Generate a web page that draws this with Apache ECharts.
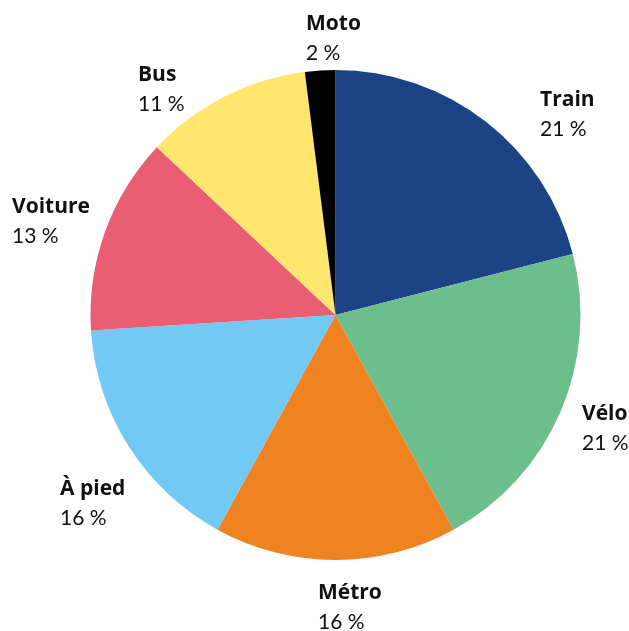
<!DOCTYPE html>
<html>
<head>
<meta charset="utf-8">
<script src="https://cdn.jsdelivr.net/npm/echarts@6/dist/echarts.min.js"></script>
<style>
  html, body { margin: 0; padding: 0; background: #fff; }
  #chart { width: 629px; height: 631px; }
</style>
</head>
<body>
<div id="chart"></div>
<script>
// modes de transport, parts en %
var modes = ['Train', 'Vélo', 'Métro', 'À pied', 'Voiture', 'Bus', 'Moto'];
var parts = [21, 21, 16, 16, 13, 11, 2];
var colors = ['#1d4387', '#6dbe8d', '#ef8221', '#72c9f4', '#ea5e74', '#fee66f', '#000000'];

// label anchors (left edge, vertical middle of the two lines)
var labelPos = [[540, 115], [582, 429], [318, 608], [60, 504], [12, 222], [138, 90], [306, 39]];

var myChart = echarts.init(document.getElementById('chart'));

var data = [];
for (var i = 0; i < modes.length; i++) {
	data.push({ name: modes[i], value: parts[i], itemStyle: { color: colors[i] } });
}

var option = {
	animation: false,
	series: [
		{
			type: 'pie',
			center: [335.5, 315],
			radius: 245,
			startAngle: 90,
			clockwise: true,
			data: data,
			itemStyle: { borderWidth: 0 },
			label: {
				show: true,
				position: 'inside',
				overflow: 'none',
				formatter: function (p) {
					return '{n|' + p.name + '}\n{v|' + p.value + ' %}';
				},
				rich: {
					n: { fontFamily: 'Open Sans', fontWeight: 'bold', fontSize: 21, lineHeight: 29, color: '#111' },
					v: { fontFamily: 'Lato', fontSize: 21, lineHeight: 29, color: '#111' }
				}
			},
			labelLine: { show: false },
			labelLayout: function (params) {
				var pos = labelPos[params.dataIndex];
				return { x: pos[0], y: pos[1], align: 'left', verticalAlign: 'middle' };
			},
			emphasis: { disabled: true }
		}
	]
};

myChart.setOption(option);
</script>
</body>
</html>
